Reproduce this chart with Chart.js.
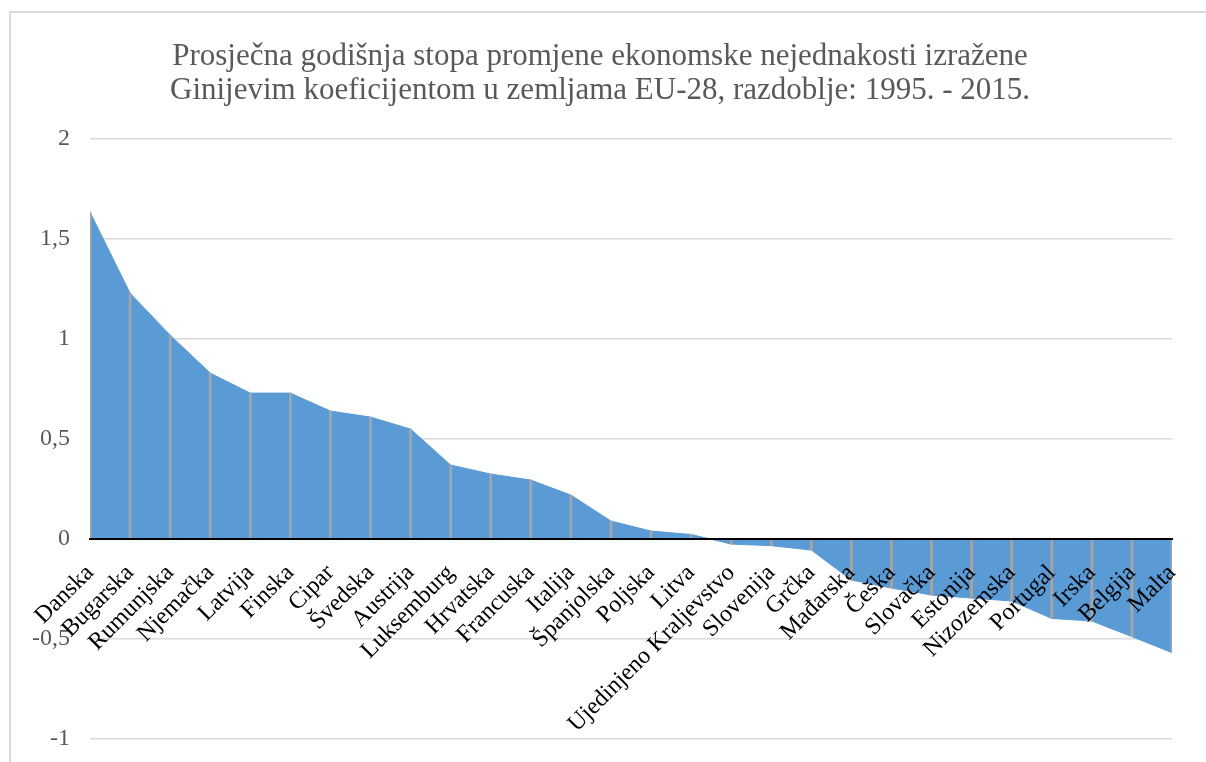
<!DOCTYPE html>
<html>
<head>
<meta charset="utf-8">
<script src="https://cdn.jsdelivr.net/npm/chart.js@4/dist/chart.umd.min.js"></script>
<style>
  html, body { margin: 0; padding: 0; background: #fff; overflow: hidden; }
  #frame {
    position: absolute; left: 9px; top: 11px; width: 1300px; height: 900px;
    border-left: 2px solid #d9d9d9; border-top: 2px solid #d9d9d9;
  }
  #chart { position: absolute; left: 0; top: 0; }
</style>
</head>
<body>
<div id="frame"></div>
<canvas id="chart" width="1206" height="762"></canvas>
<script>
const countries = [
    'Danska', 'Bugarska', 'Rumunjska', 'Njemačka', 'Latvija', 'Finska', 'Cipar',
    'Švedska', 'Austrija', 'Luksemburg', 'Hrvatska', 'Francuska', 'Italija',
    'Španjolska', 'Poljska', 'Litva', 'Ujedinjeno Kraljevstvo', 'Slovenija',
    'Grčka', 'Mađarska', 'Češka', 'Slovačka', 'Estonija', 'Nizozemska',
    'Portugal', 'Irska', 'Belgija', 'Malta'
];

// average annual rate of change of the Gini coefficient
const giniChange = [
    1.635, 1.23, 1.02, 0.83, 0.73, 0.73, 0.64,
    0.61, 0.55, 0.37, 0.325, 0.295, 0.22,
    0.09, 0.04, 0.023, -0.025, -0.033,
    -0.055, -0.205, -0.245, -0.28, -0.295, -0.31,
    -0.397, -0.41, -0.488, -0.568
];

const yTicks = [-1, -0.5, 0, 0.5, 1, 1.5, 2];
const yTickLabels = ['-1', '-0,5', '0', '0,5', '1', '1,5', '2'];

const titleLines = [
    'Prosječna godišnja stopa promjene ekonomske nejednakosti izražene',
    'Ginijevim koeficijentom u zemljama EU-28, razdoblje: 1995. - 2015.'
];

const serif = "'Liberation Serif', 'Times New Roman', serif";

const chart = new Chart(document.getElementById('chart').getContext('2d'), {
    data: {
        labels: countries,
        datasets: [
            {
                // thin grey drop lines from each point to zero
                type: 'bar',
                data: giniChange,
                backgroundColor: '#a5a5a5',
                barThickness: 2,
                order: 0
            },
            {
                type: 'line',
                data: giniChange,
                backgroundColor: '#5b9bd5',
                borderColor: '#5b9bd5',
                borderWidth: 1,
                fill: 'origin',
                pointRadius: 0,
                tension: 0,
                order: 1
            }
        ]
    },
    options: {
        responsive: false,
        animation: false,
        layout: {
            padding: { left: 28, right: 34, top: 0, bottom: 23 }
        },
        plugins: {
            legend: { display: false },
            tooltip: { enabled: false },
            title: {
                display: true,
                text: titleLines,
                color: '#595959',
                font: { family: serif, size: 31, weight: 'normal', lineHeight: 1.1 },
                padding: { top: 40, bottom: 31 }
            }
        },
        scales: {
            x: {
                type: 'category',
                position: { y: 0 },
                offset: false,
                grid: { display: false, offset: false },
                border: { display: true, color: '#000', width: 2, z: 1 },
                afterFit: scale => {
                    scale.height = 0;
                },
                ticks: {
                    z: 2,
                    autoSkip: false,
                    minRotation: 45,
                    maxRotation: 45,
                    padding: 12,
                    color: '#000',
                    font: { family: serif, size: 24 }
                }
            },
            y: {
                min: -1,
                max: 2,
                afterBuildTicks: scale => {
                    scale.ticks = yTicks.map(v => ({ value: v }));
                },
                afterFit: scale => {
                    scale.width = 62;
                    // don't let the label padding push the plot area in
                    scale.paddingTop = 0;
                    scale.paddingBottom = 0;
                },
                grid: { color: '#d9d9d9', lineWidth: 1.5, drawTicks: false },
                border: { display: false },
                ticks: {
                    padding: 20,
                    color: '#595959',
                    font: { family: serif, size: 24 },
                    callback: (value, i) => yTickLabels[i]
                }
            }
        }
    }
});
</script>
</body>
</html>
